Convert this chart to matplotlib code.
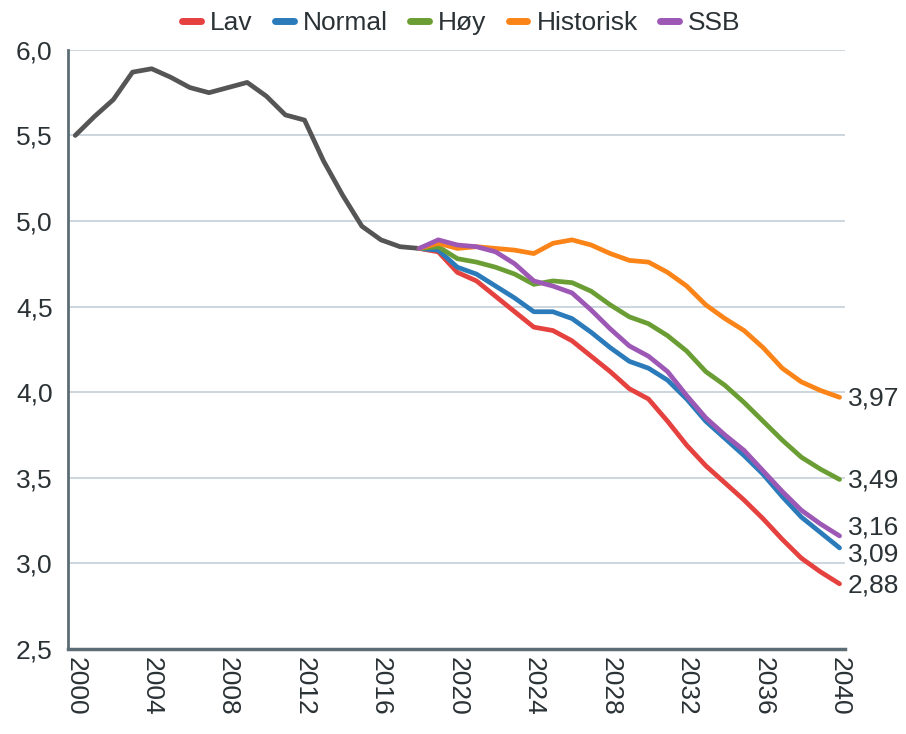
import matplotlib.pyplot as plt
from matplotlib.ticker import FuncFormatter, MultipleLocator

plt.rcParams['font.family'] = ['Liberation Sans', 'DejaVu Sans']

# historisk utvikling
hist_years = list(range(2000, 2019))
hist_vals = [5.50, 5.61, 5.71, 5.87, 5.89, 5.84, 5.78, 5.75, 5.78, 5.81,
             5.73, 5.62, 5.59, 5.35, 5.15, 4.97, 4.89, 4.85, 4.84]

# scenarier 2018-2040
scen_years = list(range(2018, 2041))
lav = [4.84, 4.82, 4.70, 4.65, 4.56, 4.47, 4.38, 4.36, 4.30, 4.21, 4.12, 4.02,
       3.96, 3.83, 3.69, 3.57, 3.47, 3.37, 3.26, 3.14, 3.03, 2.95, 2.88]
normal = [4.84, 4.83, 4.73, 4.69, 4.62, 4.55, 4.47, 4.47, 4.43, 4.35, 4.26, 4.18,
          4.14, 4.07, 3.96, 3.83, 3.73, 3.63, 3.52, 3.39, 3.27, 3.18, 3.09]
hoy = [4.84, 4.85, 4.78, 4.76, 4.73, 4.69, 4.63, 4.65, 4.64, 4.59, 4.51, 4.44,
       4.40, 4.33, 4.24, 4.12, 4.04, 3.94, 3.83, 3.72, 3.62, 3.55, 3.49]
historisk = [4.84, 4.87, 4.84, 4.85, 4.84, 4.83, 4.81, 4.87, 4.89, 4.86, 4.81, 4.77,
             4.76, 4.70, 4.62, 4.51, 4.43, 4.36, 4.26, 4.14, 4.06, 4.01, 3.97]
ssb = [4.84, 4.89, 4.86, 4.85, 4.82, 4.75, 4.65, 4.62, 4.58, 4.48, 4.37, 4.27,
       4.21, 4.12, 3.98, 3.85, 3.75, 3.66, 3.54, 3.42, 3.31, 3.23, 3.16]

names = ['Lav', 'Normal', 'Høy', 'Historisk', 'SSB']
series = [lav, normal, hoy, historisk, ssb]
colors = ['#e5413f', '#2b7bba', '#6a9e34', '#fb8419', '#9d58b5']
end_labels = ['2,88', '3,09', '3,49', '3,97', '3,16']
# vertikal forskyvning av sluttetikettene (punkter) så de ikke overlapper
label_dy = [-1, -5, -1, -1, 6]

text_col = '#2b3236'
axis_col = '#5d6d75'
grid_col = '#c9d3da'

fig = plt.figure(figsize=(9.06, 7.34), dpi=100)
ax = fig.add_axes([0.075, 0.116, 0.858, 0.816])

ax.plot(hist_years, hist_vals, color='#555555', lw=3.4, solid_capstyle='round',
        solid_joinstyle='round', zorder=3)

for name, vals, col in zip(names, series, colors):
    ax.plot(scen_years, vals, color=col, lw=3.4, label=name,
            solid_capstyle='round', solid_joinstyle='round', zorder=3)

# verdier ved siste år
for vals, lab, dy in zip(series, end_labels, label_dy):
    ax.annotate(lab, xy=(scen_years[-1], vals[-1]), xytext=(6, dy),
                textcoords='offset points', ha='left', va='center',
                fontsize=19, color=text_col, annotation_clip=False)

ax.set_xlim(1999.62, 2040.3)
ax.set_ylim(2.5, 6.0)
ax.xaxis.set_major_locator(MultipleLocator(4))
ax.yaxis.set_major_locator(MultipleLocator(0.5))
ax.yaxis.set_major_formatter(FuncFormatter(lambda v, p: f'{v:.1f}'.replace('.', ',')))
ax.tick_params(axis='both', length=0, labelsize=19, colors=text_col)
ax.tick_params(axis='y', pad=11)
ax.tick_params(axis='x', pad=6)
for lbl in ax.get_xticklabels():
    lbl.set_rotation(270)

ax.grid(axis='y', color=grid_col, lw=1.3)
ax.set_axisbelow(True)
ax.spines['top'].set_visible(False)
ax.spines['right'].set_visible(False)
ax.spines['left'].set_color(axis_col)
ax.spines['bottom'].set_color(axis_col)
ax.spines['left'].set_linewidth(2)
ax.spines['bottom'].set_linewidth(2.5)
ax.spines['bottom'].set_zorder(4)

leg = ax.legend(loc='lower center', bbox_to_anchor=(0.506, 1.0), ncol=5, frameon=False,
                fontsize=19, handlelength=0.7, handletextpad=0.35, columnspacing=0.85,
                borderaxespad=0.15)
for h in leg.get_lines():
    h.set_linewidth(5)
    h.set_solid_capstyle('round')
for t in leg.get_texts():
    t.set_color(text_col)

fig.savefig('out.png', dpi=100)
